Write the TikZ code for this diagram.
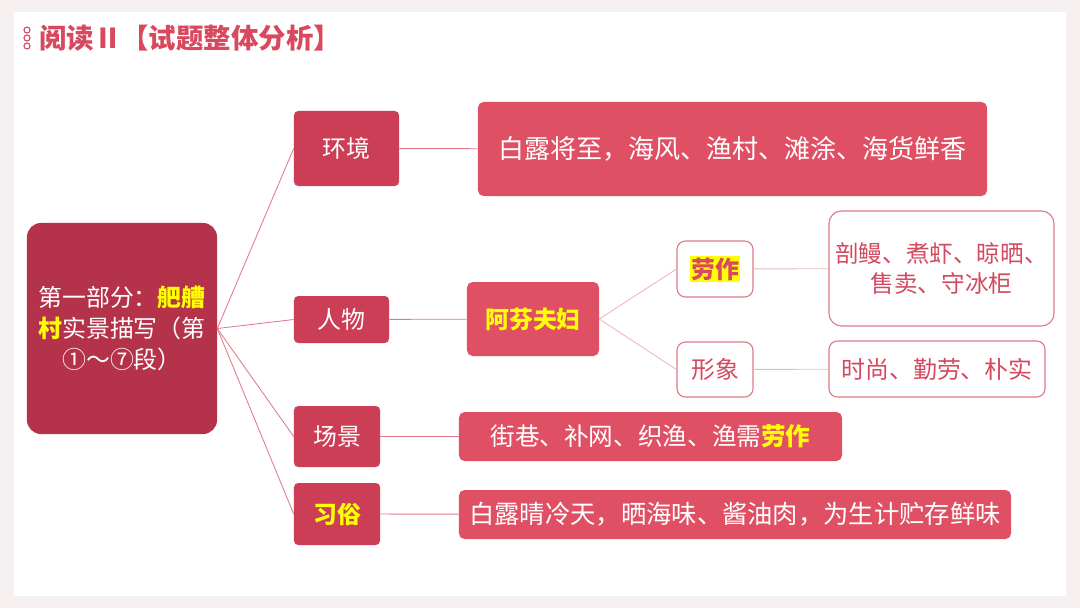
\documentclass[tikz,border=0pt]{standalone}
\usepackage{fontspec}
\setmainfont{Noto Sans CJK SC}
\definecolor{bgpink}{HTML}{F5EFF0}
\definecolor{maindark}{HTML}{B5334A}
\definecolor{lvlred}{HTML}{CC3E55}
\definecolor{boxred}{HTML}{E05065}
\definecolor{linered}{HTML}{E07A88}
\definecolor{lightline}{HTML}{F0B4BE}
\definecolor{txtred}{HTML}{D34A60}
\definecolor{titlered}{HTML}{D9485C}
\definecolor{hiyellow}{HTML}{FFFF00}

\begin{document}
\begin{tikzpicture}[x=0.025cm,y=-0.025cm,
    every node/.style={inner sep=0pt,align=center},
    mainbox/.style={fill=maindark,rounded corners=10pt,text=white,
        minimum width=4.75cm,minimum height=5.275cm,
        font=\fontsize{17pt}{22pt}\selectfont},
    lvlbox/.style={fill=lvlred,rounded corners=3pt,text=white,
        font=\fontsize{17pt}{20pt}\selectfont},
    redbox/.style={fill=boxred,rounded corners=4pt,text=white},
    pinkbox/.style={draw=linered,line width=0.8pt,fill=white,rounded corners=6pt,
        text=txtred},
    link/.style={draw=linered,line width=0.6pt},
    softlink/.style={draw=lightline,line width=0.6pt}]
    \fill[bgpink] (0,0) rectangle (1080,608);
    \fill[white] (14,12) rectangle (1066,596);
    \useasboundingbox (0,0) rectangle (1080,608);
    \foreach \y in {30,38,46}
    \draw[titlered,line width=0.8pt] (27,\y) circle [radius=3];
    \node[anchor=west,text=titlered,font=\fontsize{19.5pt}{22pt}\selectfont\bfseries]
    (title) at (39,38) {阅读Ⅱ【试题整体分析】};
    \node[mainbox] (part) at (122,328.5)
    {第一部分：\textcolor{hiyellow}{\bfseries 舥艚}\\
     \textcolor{hiyellow}{\bfseries 村}实景描写（第\\
     ①～⑦段）};
    \node[lvlbox,minimum width=2.625cm,minimum height=1.875cm] (env) at (346.5,148.5) {环境};
    \node[lvlbox,minimum width=2.375cm,minimum height=1.175cm] (ppl) at (341.5,319.5) {人物};
    \node[lvlbox,minimum width=2.15cm,minimum height=1.525cm] (scene) at (337,436.5) {场景};
    \node[lvlbox,minimum width=2.15cm,minimum height=1.55cm,text=hiyellow,
        font=\fontsize{17pt}{20pt}\selectfont\bfseries] (custom) at (337,514) {习俗};
    \node[redbox,minimum width=12.725cm,minimum height=2.35cm,
        font=\fontsize{18.5pt}{22pt}\selectfont] (envtext) at (732.5,149)
    {白露将至，海风、渔村、滩涂、海货鲜香};
    \node[redbox,minimum width=3.3cm,minimum height=1.85cm,text=hiyellow,
        font=\fontsize{17pt}{20pt}\selectfont\bfseries] (couple) at (533,319) {阿芬夫妇};
    \node[pinkbox,minimum width=1.9cm,minimum height=1.4cm,
        font=\fontsize{17pt}{20pt}\selectfont] (work) at (715,269)
    {\setlength{\fboxsep}{1pt}\colorbox{hiyellow}{\textcolor{titlered}{\bfseries 劳作}}};
    \node[pinkbox,minimum width=1.9cm,minimum height=1.375cm,
        font=\fontsize{17pt}{20pt}\selectfont] (image) at (715,369.5) {形象};
    \node[pinkbox,minimum width=5.625cm,minimum height=2.875cm,rounded corners=9pt,
        font=\fontsize{16.8pt}{21pt}\selectfont] (worktext) at (941.5,268.5)
    {剖鳗、煮虾、晾晒、\\售卖、守冰柜};
    \node[pinkbox,minimum width=5.4cm,minimum height=1.4cm,
        font=\fontsize{17pt}{20pt}\selectfont] (imagetext) at (937,369)
    {时尚、勤劳、朴实};
    \node[redbox,minimum width=9.575cm,minimum height=1.225cm,
        font=\fontsize{17.5pt}{20pt}\selectfont] (scenetext) at (650.5,436.5)
    {街巷、补网、织渔、渔需\textcolor{hiyellow}{\bfseries 劳作}};
    \node[redbox,minimum width=13.8cm,minimum height=1.225cm,
        font=\fontsize{18pt}{20pt}\selectfont] (customtext) at (735,514.5)
    {白露晴冷天，晒海味、酱油肉，为生计贮存鲜味};
    \foreach \n in {env,ppl,scene,custom}
    \draw[link] (part.east) -- (\n.west);
    \draw[link] (env) -- (envtext);
    \draw[link] (ppl) -- (couple);
    \draw[softlink] (couple.east) -- (work.west);
    \draw[softlink] (couple.east) -- (image.west);
    \draw[softlink] (work) -- (worktext);
    \draw[softlink] (image) -- (imagetext);
    \draw[link] (scene) -- (scenetext);
    \draw[link] (custom) -- (customtext);
\end{tikzpicture}
\end{document}
